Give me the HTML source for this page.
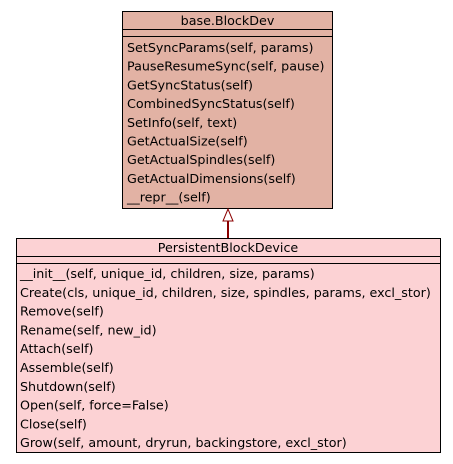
<!DOCTYPE html>
<html><head><meta charset="utf-8"><style>
html,body{margin:0;padding:0;background:#fff;}
svg{display:block;}
text{font-family:"DejaVu Sans","Liberation Sans",sans-serif;font-size:12.7px;fill:#000;}
</style></head><body>
<svg width="453" height="464" xmlns="http://www.w3.org/2000/svg">
<rect x="0" y="0" width="453" height="464" fill="#fff"/>
<rect x="122.5" y="11.5" width="210" height="197" fill="#e2b2a4" stroke="#000" stroke-width="1"/>
<line x1="122" y1="29.5" x2="333" y2="29.5" stroke="#000"/>
<line x1="122" y1="36.5" x2="333" y2="36.5" stroke="#000"/>
<text x="227.5" y="25" text-anchor="middle">base.BlockDev</text>
<text x="127" y="52">SetSyncParams(self, params)</text>
<text x="127" y="70.7">PauseResumeSync(self, pause)</text>
<text x="127" y="89.4">GetSyncStatus(self)</text>
<text x="127" y="108.1">CombinedSyncStatus(self)</text>
<text x="127" y="126.8">SetInfo(self, text)</text>
<text x="127" y="145.5">GetActualSize(self)</text>
<text x="127" y="164.2">GetActualSpindles(self)</text>
<text x="127" y="182.9">GetActualDimensions(self)</text>
<text x="127" y="201.6">__repr__(self)</text>
<line x1="228" y1="221" x2="228" y2="238" stroke="#8b0000" stroke-width="2"/>
<polygon points="228,209 223,221 233,221" fill="#fff" stroke="#8b0000" stroke-width="1"/>
<rect x="16.5" y="238.5" width="424" height="214" fill="#fcd2d4" stroke="#000" stroke-width="1"/>
<line x1="16" y1="256.5" x2="441" y2="256.5" stroke="#000"/>
<line x1="16" y1="263.5" x2="441" y2="263.5" stroke="#000"/>
<text x="228" y="252" text-anchor="middle">PersistentBlockDevice</text>
<text x="20" y="278">__init__(self, unique_id, children, size, params)</text>
<text x="20" y="296.8">Create(cls, unique_id, children, size, spindles, params, excl_stor)</text>
<text x="20" y="315.6">Remove(self)</text>
<text x="20" y="334.4">Rename(self, new_id)</text>
<text x="20" y="353.2">Attach(self)</text>
<text x="20" y="372">Assemble(self)</text>
<text x="20" y="390.8">Shutdown(self)</text>
<text x="20" y="409.6">Open(self, force=False)</text>
<text x="20" y="428.4">Close(self)</text>
<text x="20" y="447.2">Grow(self, amount, dryrun, backingstore, excl_stor)</text>
</svg>
</body></html>
